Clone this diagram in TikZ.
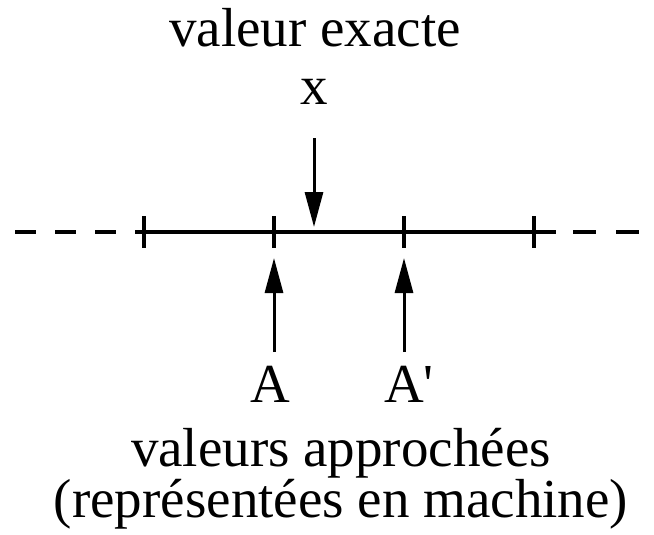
\documentclass[tikz,border=0pt]{standalone}
\usepackage{fontspec}
\setmainfont{Liberation Serif}
\usetikzlibrary{arrows.meta}
\begin{document}
\begin{tikzpicture}[x=1pt,y=-1pt,
  lbl/.style={font=\fontsize{55}{66}\selectfont, inner sep=0pt, anchor=base},
  axisline/.style={line width=3.5pt},
  dashline/.style={line width=3.5pt, dash pattern=on 21pt off 19pt},
  tickmark/.style={line width=3.2pt},
  ptr/.style={line width=3pt, -{Triangle[length=35pt,width=18pt]}}]
\useasboundingbox (0,0) rectangle (654,535);
% axis
\coordinate (L0) at (15,232);
\coordinate (L1) at (139,232);
\coordinate (R1) at (556,232);
\coordinate (R0) at (573,232);
\coordinate (R2) at (654,232);
\draw[dashline] (L0) -- (L1);
\draw[axisline] (L1) -- (R1);
\draw[line width=3.5pt, dash pattern=on 23pt off 20pt] (R0) -- (R2);
\foreach \t/\xx in {t1/144,t2/274,t3/404,t4/534}{
  \coordinate (\t) at (\xx,232);
  \draw[tickmark] (\xx,216) -- (\xx,248);
}
% labels
\node[lbl] (exact) at (315,47) {valeur exacte};
\node[lbl] (xl) at (314,105) {x};
\node[lbl] (A) at (270,402) {A};
\node[lbl, anchor=base west] (Ap) at (384,402) {A\textquotesingle};
\node[lbl, font=\fontsize{55}{47}\selectfont, align=center] (appr) at (341,517)
  {valeurs approchées\\(représentées en machine)};
% arrows
\coordinate (xs) at (314,138);
\coordinate (xe) at (314,227);
\coordinate (as) at (274,352);
\coordinate (ae) at (274,258);
\coordinate (bs) at (404,352);
\coordinate (be) at (404,258);
\draw[ptr] (xs) -- (xe);
\draw[ptr] (as) -- (ae);
\draw[ptr] (bs) -- (be);
\end{tikzpicture}
\end{document}
